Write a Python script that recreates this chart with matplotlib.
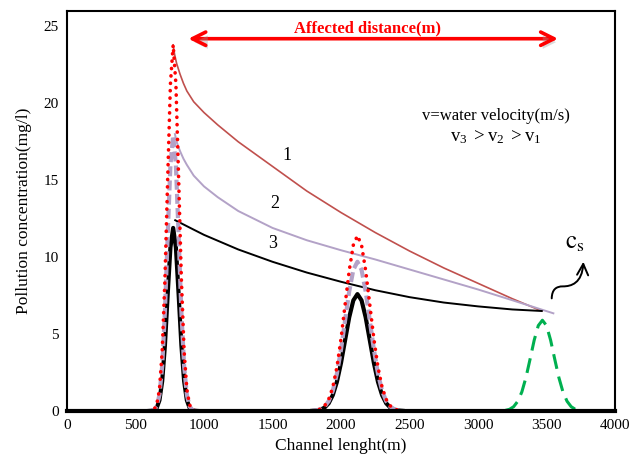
import matplotlib
matplotlib.use("Agg")
import matplotlib.pyplot as plt
import matplotlib.patheffects as pe
from matplotlib.path import Path
from matplotlib.patches import FancyArrowPatch

plt.rcParams['font.family'] = ['Liberation Serif', 'DejaVu Serif']
plt.rcParams['mathtext.fontset'] = 'stix'

# --- data -------------------------------------------------------------------
# decay envelopes (curve 1, 2, 3)
env1_x = [775, 785, 800, 825, 850, 875, 925, 1000, 1100, 1250, 1500, 1750,
          2000, 2250, 2500, 2750, 3000, 3250, 3465]
env1_y = [23.8, 23.2, 22.6, 21.9, 21.3, 20.8, 20.1, 19.4, 18.6, 17.5, 15.9, 14.3,
          12.9, 11.6, 10.4, 9.3, 8.3, 7.3, 6.5]
env2_x = [788, 800, 825, 850, 875, 925, 1000, 1100, 1250, 1500, 1750, 2000,
          2250, 2500, 2750, 3000, 3250, 3550]
env2_y = [18.0, 17.5, 16.9, 16.4, 16.0, 15.3, 14.6, 13.9, 13.0, 11.9, 11.1, 10.45,
          9.85, 9.2, 8.55, 7.9, 7.2, 6.35]
env3_x = [790, 900, 1000, 1250, 1500, 1750, 2000, 2250, 2500, 2750, 3000, 3250, 3465]
env3_y = [12.4, 11.9, 11.45, 10.5, 9.7, 9.0, 8.4, 7.85, 7.4, 7.05, 6.8, 6.6, 6.5]

# first pulse (around 775 m)
p1_x = [595, 615, 635, 655, 675, 695, 715, 735, 755, 775,
        795, 815, 835, 855, 875, 895, 915, 935, 955]
p1_red = [0.0, 0.02, 0.09, 0.40, 1.40, 3.88, 8.57, 15.1, 21.25, 23.8,
          21.25, 15.1, 8.57, 3.88, 1.40, 0.40, 0.09, 0.02, 0.0]
p1_pur = [0.0, 0.01, 0.07, 0.30, 1.05, 2.92, 6.44, 11.37, 15.98, 17.9,
          15.98, 11.37, 6.44, 2.92, 1.05, 0.30, 0.07, 0.01, 0.0]
p1_blk = [0.0, 0.01, 0.05, 0.20, 0.70, 1.94, 4.28, 7.56, 10.63, 11.9,
          10.63, 7.56, 4.28, 1.94, 0.70, 0.20, 0.05, 0.01, 0.0]

# second pulse (around 2120 m)
p2_x = [1790, 1820, 1850, 1880, 1910, 1940, 1970, 2000, 2030, 2060, 2090, 2120,
        2150, 2180, 2210, 2240, 2270, 2300, 2330, 2360, 2390, 2420, 2450]
p2_red = [0.01, 0.04, 0.13, 0.33, 0.75, 1.54, 2.84, 4.69, 6.92, 9.13, 10.78, 11.4,
          10.78, 9.13, 6.92, 4.69, 2.84, 1.54, 0.75, 0.33, 0.13, 0.04, 0.01]
p2_pur = [0.01, 0.04, 0.11, 0.28, 0.64, 1.31, 2.42, 3.99, 5.89, 7.77, 9.18, 9.7,
          9.18, 7.77, 5.89, 3.99, 2.42, 1.31, 0.64, 0.28, 0.11, 0.04, 0.01]
p2_blk = [0.01, 0.03, 0.08, 0.22, 0.50, 1.03, 1.89, 3.12, 4.61, 6.09, 7.19, 7.6,
          7.19, 6.09, 4.61, 3.12, 1.89, 1.03, 0.50, 0.22, 0.08, 0.03, 0.01]

# standard level pulse (c_s)
cs_x = [3200, 3230, 3260, 3290, 3320, 3350, 3380, 3410, 3440, 3470,
        3500, 3530, 3560, 3590, 3620, 3650, 3680, 3710, 3740]
cs_y = [0.04, 0.11, 0.28, 0.63, 1.24, 2.18, 3.37, 4.60, 5.55, 5.9,
        5.55, 4.60, 3.37, 2.18, 1.24, 0.63, 0.28, 0.11, 0.04]

xticks = [0, 500, 1000, 1500, 2000, 2500, 3000, 3500, 4000]
yticks = [0, 5, 10, 15, 20, 25]

red_c = '#c0504d'
pur_c = '#b3a2c7'

fig = plt.figure(figsize=(6.44, 4.59), dpi=100)
ax = fig.add_axes([0.104, 0.1046, 0.851, 0.8714])

ax.plot(env1_x, env1_y, color=red_c, lw=1.2, zorder=2)
ax.plot(env2_x, env2_y, color=pur_c, lw=1.4, zorder=2)
ax.plot(env3_x, env3_y, color='black', lw=1.4, zorder=2)

for px, r, p, b in [(p1_x, p1_red, p1_pur, p1_blk), (p2_x, p2_red, p2_pur, p2_blk)]:
    ax.plot(px, b, color='black', lw=3, zorder=3)
    ax.plot(px, p, color=pur_c, lw=3, ls=(0, (2.4, 1.0)), zorder=4)
    ax.plot(px, r, color='red', lw=2.6, ls=(0, (0.05, 2.0)), zorder=5,
            dash_capstyle='round')
ax.plot(cs_x, cs_y, color='#00b050', lw=2.2, ls=(0, (4.9, 2.6)), zorder=3)

ax.set_xlim(0, 4000)
ax.set_ylim(0, 26)
ax.set_xticks(xticks)
ax.set_yticks(yticks)
ax.tick_params(length=0, labelsize=11, pad=6)
for s in ax.spines.values():
    s.set_linewidth(1.5)
    s.set_zorder(6)
ax.spines['bottom'].set_linewidth(3)

ax.set_xlabel('Channel lenght(m)', fontsize=12.5, labelpad=4)
ax.set_ylabel('Pollution concentration(mg/l)', fontsize=12.5, labelpad=8)

# curve numbers
ax.text(1606, 16.6, '1', fontsize=13, ha='center', va='center')
ax.text(1518, 13.5, '2', fontsize=13, ha='center', va='center')
ax.text(1504, 10.9, '3', fontsize=13, ha='center', va='center')

ax.text(3131, 19.2, 'v=water velocity(m/s)', fontsize=12, ha='center', va='center')
ax.text(3131, 17.8, r'$\mathregular{v_3\ > v_2\ > v_1}$', fontsize=13.5,
        ha='center', va='center')

# affected distance arrow
arr = ax.annotate('', xy=(886, 24.2), xytext=(3584, 24.2),
                  arrowprops=dict(arrowstyle='<->', color='red', lw=2.6,
                                  mutation_scale=24, shrinkA=0, shrinkB=0))
arr.arrow_patch.set_path_effects([pe.SimplePatchShadow(offset=(1.5, -2.5),
                                                       shadow_rgbFace='0.6', alpha=0.35),
                                  pe.Normal()])
ax.text(2196, 24.9, 'Affected distance(m)', color='red', fontsize=12,
        fontweight='bold', ha='center', va='center')

# c_s label with wavy arrow
ax.text(3708, 10.9, r'$\mathrm{c}_\mathrm{s}$', fontsize=18, ha='center', va='center')
wave = Path([(3538, 7.32), (3540, 7.9), (3570, 8.1), (3620, 8.1),
             (3680, 8.1), (3760, 8.3), (3769, 9.7)],
            [Path.MOVETO, Path.CURVE4, Path.CURVE4, Path.CURVE4,
             Path.CURVE4, Path.CURVE4, Path.CURVE4])
ax.add_patch(FancyArrowPatch(path=wave, arrowstyle='->', mutation_scale=20,
                             color='black', lw=1.4, zorder=6))

fig.savefig('out.png', dpi=100)
